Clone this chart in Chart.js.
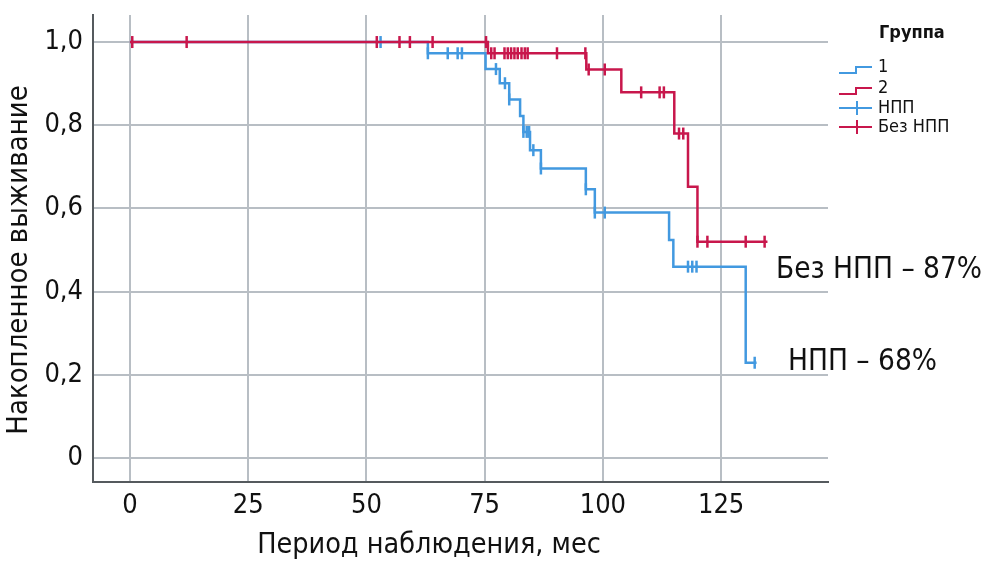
<!DOCTYPE html>
<html lang="ru">
<head>
    <meta charset="UTF-8">
    <title>Накопленное выживание</title>
    <style>
        body { margin: 0; background: #fff; }
        #wrap { width: 985px; height: 579px; }
    </style>
    <script src="https://cdn.jsdelivr.net/npm/chart.js"></script>
</head>
<body>
    <div id="wrap"><canvas id="kmChart" width="985" height="579"></canvas></div>

    <script>
        // Kaplan-Meier steps: time (months) and survival after the step
        const nppTimes = [0, 63, 75.2, 78.2, 80.2, 82.5, 83.2, 84.6, 86.9, 96.4, 98.3, 114, 114.9, 130.2, 132.5];
        const nppSurv  = [1, 0.973, 0.935, 0.901, 0.862, 0.822, 0.784, 0.74, 0.696, 0.646, 0.59, 0.524, 0.46, 0.229, 0.229];
        const nppCensored = [53, 63, 67.2, 69.3, 70.2, 77.4, 79.3, 80.2, 83.2, 83.9, 84.4, 85.3, 86.9, 96.4, 98.3, 100.4, 118, 118.9, 119.8, 132.1];

        const noNppTimes = [0, 75.7, 96.5, 103.9, 115.1, 118, 120, 134.8];
        const noNppSurv  = [1, 0.973, 0.934, 0.879, 0.78, 0.652, 0.52, 0.52];
        const noNppCensored = [0.5, 12, 52.2, 57, 59.2, 64, 75.3, 76.4, 77.1, 79.2, 79.9, 80.6, 81.3, 82, 82.8, 83.5, 84.1, 90.3,
            96.3, 97, 100.4, 108.1, 112, 112.9, 116.1, 117, 120, 122.1, 130.2, 134.2];

        const xTicks = [0, 25, 50, 75, 100, 125];
        const yTicks = [0, 0.2, 0.4, 0.6, 0.8, 1.0];
        const yTickLabels = ['0', '0,2', '0,4', '0,6', '0,8', '1,0'];

        const groupTitle = 'Группа';
        const legendItems = ['1', '2', 'НПП', 'Без НПП'];
        const notes = ['Без НПП – 87%', 'НПП – 68%'];
        const xTitle = 'Период наблюдения, мес';
        const yTitle = 'Накопленное выживание';

        const BLUE = '#4299e0';
        const RED = '#c8174c';
        const FONT = "'Liberation Sans Narrow', 'DejaVu Sans Condensed', 'Roboto', sans-serif";

        function survAt(times, surv, t) {
            let s = surv[0];
            for (let i = 0; i < times.length; i++) {
                if (times[i] <= t) s = surv[i];
            }
            return s;
        }

        const steps = (times, surv) => times.map((t, i) => ({ x: t, y: surv[i] }));
        const marks = (cens, times, surv) => cens.map(t => ({ x: t, y: survAt(times, surv, t) }));

        // legend, axis titles and the text notes on the right
        const sidePlugin = {
            id: 'side',
            afterDraw(chart) {
                const ctx = chart.ctx;
                ctx.save();
                ctx.fillStyle = '#111';
                ctx.textBaseline = 'middle';
                ctx.font = 'bold 18px ' + FONT;
                ctx.fillText(groupTitle, 879, 33);

                ctx.font = '18px ' + FONT;
                const rows = [67, 88, 108, 127];
                rows.forEach((y, i) => {
                    const col = (i % 2 === 0) ? BLUE : RED;
                    ctx.strokeStyle = col;
                    ctx.lineWidth = 2;
                    ctx.beginPath();
                    if (i < 2) {
                        ctx.moveTo(839, y + 6); ctx.lineTo(856, y + 6);
                        ctx.lineTo(856, y); ctx.lineTo(872, y);
                    } else {
                        ctx.moveTo(839, y); ctx.lineTo(872, y);
                        ctx.moveTo(857, y - 7); ctx.lineTo(857, y + 7);
                    }
                    ctx.stroke();
                    ctx.fillStyle = '#111';
                    ctx.fillText(legendItems[i], 878, y);
                });

                ctx.font = '29.5px ' + FONT;
                ctx.fillText(notes[0], 776, 270);
                ctx.fillText(notes[1], 788, 362);

                ctx.textAlign = 'center';
                ctx.font = '28.5px ' + FONT;
                ctx.fillText(xTitle, 429, 546);

                ctx.font = '29px ' + FONT;
                ctx.translate(19, 260);
                ctx.rotate(-Math.PI / 2);
                ctx.fillText(yTitle, 0, 0);
                ctx.restore();
            }
        };

        const ctx = document.getElementById('kmChart').getContext('2d');
        // first datasets are drawn on top, so the red group comes first
        new Chart(ctx, {
            type: 'scatter',
            data: {
                datasets: [
                    {
                        label: 'Без НПП цензур.',
                        data: marks(noNppCensored, noNppTimes, noNppSurv),
                        pointStyle: 'line',
                        rotation: 90,
                        pointRadius: 6,
                        borderColor: RED,
                        borderWidth: 2.5
                    },
                    {
                        label: 'Без НПП',
                        data: steps(noNppTimes, noNppSurv),
                        showLine: true,
                        stepped: 'before',
                        borderColor: RED,
                        borderWidth: 2.5,
                        pointRadius: 0
                    },
                    {
                        label: 'НПП цензур.',
                        data: marks(nppCensored, nppTimes, nppSurv),
                        pointStyle: 'line',
                        rotation: 90,
                        pointRadius: 6,
                        borderColor: BLUE,
                        borderWidth: 2.5
                    },
                    {
                        label: 'НПП',
                        data: steps(nppTimes, nppSurv),
                        showLine: true,
                        stepped: 'before',
                        borderColor: BLUE,
                        borderWidth: 2.5,
                        pointRadius: 0
                    }
                ]
            },
            options: {
                responsive: false,
                animation: false,
                layout: { padding: { top: 15, right: 157, left: 0, bottom: 0 } },
                plugins: {
                    legend: { display: false },
                    tooltip: { enabled: false }
                },
                scales: {
                    x: {
                        type: 'linear',
                        min: -7.8,
                        max: 147.6,
                        afterFit: s => { s.height = 97; s.paddingLeft = 0; s.paddingRight = 0; },
                        afterBuildTicks: s => { s.ticks = xTicks.map(v => ({ value: v })); },
                        grid: { color: '#b8bec4', lineWidth: 2, drawTicks: false },
                        border: { color: '#555a5e', width: 2 },
                        ticks: {
                            color: '#111',
                            padding: 8,
                            font: { family: FONT, size: 27 },
                            maxRotation: 0
                        }
                    },
                    y: {
                        min: -0.0577,
                        max: 1.065,
                        afterFit: s => { s.width = 93; s.paddingTop = 0; s.paddingBottom = 0; },
                        afterBuildTicks: s => { s.ticks = yTicks.map(v => ({ value: v })); },
                        grid: { color: '#b8bec4', lineWidth: 2, drawTicks: false },
                        border: { color: '#555a5e', width: 2 },
                        ticks: {
                            color: '#111',
                            padding: 10,
                            font: { family: FONT, size: 27 },
                            callback: (v) => yTickLabels[yTicks.indexOf(v)]
                        }
                    }
                }
            },
            plugins: [sidePlugin]
        });
    </script>
</body>
</html>
